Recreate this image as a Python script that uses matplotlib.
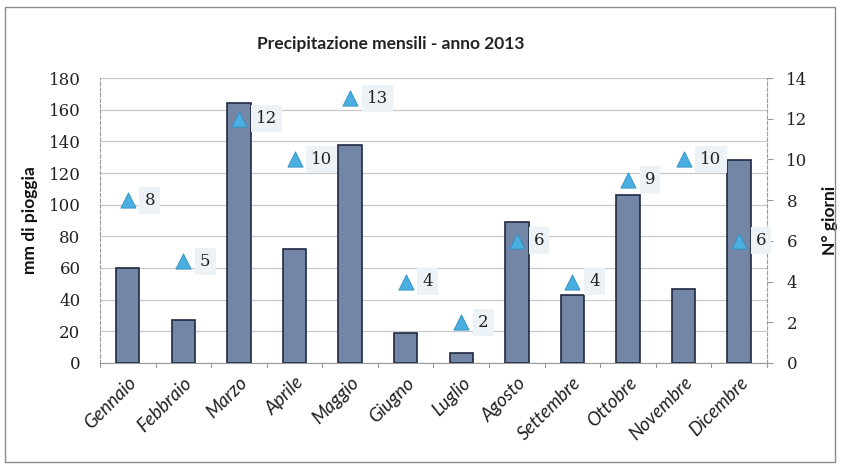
import matplotlib.pyplot as plt
from matplotlib.patches import Rectangle

mesi = ["Gennaio", "Febbraio", "Marzo", "Aprile", "Maggio", "Giugno",
        "Luglio", "Agosto", "Settembre", "Ottobre", "Novembre", "Dicembre"]
pioggia_mm = [60, 27, 164, 72, 138, 19, 6, 89, 43, 106, 47, 128]
giorni_pioggia = [8, 5, 12, 10, 13, 4, 2, 6, 4, 9, 10, 6]

fig = plt.figure(figsize=(8.43, 4.68), dpi=100)
fig.patch.set_facecolor('white')
fig.patches.append(Rectangle((0.006, 0.012), 0.985, 0.972, transform=fig.transFigure,
                             fill=False, edgecolor='#8a8a8a', linewidth=1.0))

ax = fig.add_axes([0.1186, 0.2244, 0.7912, 0.6089])
x = list(range(len(mesi)))

ax.bar(x, pioggia_mm, width=0.42, color='#7486a6', edgecolor='#1f2a44',
       linewidth=1.2, zorder=3)
ax.set_xlim(-0.5, len(mesi) - 0.5)
ax.set_ylim(0, 180)
ax.set_yticks(range(0, 181, 20))
ax.yaxis.grid(True, color='#c8c8c8', linewidth=0.9, zorder=0)
ax.set_axisbelow(True)

serif = 'DejaVu Serif'
ax.set_yticklabels([str(v) for v in range(0, 181, 20)], family=serif, fontsize=12, color='#222222')
ax.tick_params(axis='y', length=0, pad=14)
ax.set_xticks(x)
ax.set_xticklabels(mesi, rotation=45, ha='right', rotation_mode='anchor',
                   style='italic', family='Lato', fontsize=13.5, color='#222222')
ax.tick_params(axis='x', length=0, pad=8)
# small boundary ticks between months
for b in range(len(mesi) + 1):
    ax.plot([b - 0.5, b - 0.5], [0, -2.5], color='#9a9a9a', linewidth=0.8,
            clip_on=False, zorder=2)

ax.spines['top'].set_visible(False)
ax.spines['left'].set_color('#9a9a9a')
ax.spines['left'].set_linestyle((0, (3, 2)))
ax.spines['bottom'].set_color('#9a9a9a')
ax.spines['right'].set_visible(False)

ax.set_ylabel('mm di pioggia', family='Lato', fontweight='bold', fontsize=12.5,
              color='#111111', labelpad=8)

ax2 = ax.twinx()
ax2.set_ylim(0, 14)
ax2.set_yticks(range(0, 15, 2))
ax2.set_yticklabels([str(v) for v in range(0, 15, 2)], family=serif, fontsize=12, color='#222222')
ax2.tick_params(axis='y', length=4, direction='out', color='#9a9a9a', pad=10)
for side in ['top', 'left', 'bottom']:
    ax2.spines[side].set_visible(False)
ax2.spines['right'].set_color('#9a9a9a')
ax2.spines['right'].set_linestyle((0, (3, 2)))
ax2.set_ylabel('N° giorni', family='Lato', fontweight='bold', fontsize=12.5,
               color='#111111', labelpad=10)

ax2.scatter(x, giorni_pioggia, marker='^', s=120, color='#4aaee0',
            edgecolor='#2f8fc6', linewidth=0.6, zorder=5)
for xi, g in zip(x, giorni_pioggia):
    ax2.annotate(str(g), (xi, g), xytext=(12, 0), textcoords='offset points',
                 va='center', ha='left', family=serif, fontsize=12, color='#222222',
                 bbox=dict(boxstyle='square,pad=0.3', facecolor='#edf2f6',
                           edgecolor='none'), zorder=6)

fig.text(0.463, 0.905, 'Precipitazione mensili - anno 2013', ha='center', va='center',
         family='Lato', fontweight='bold', fontsize=12.5, color='#222222')

fig.savefig('out.png', dpi=100)
